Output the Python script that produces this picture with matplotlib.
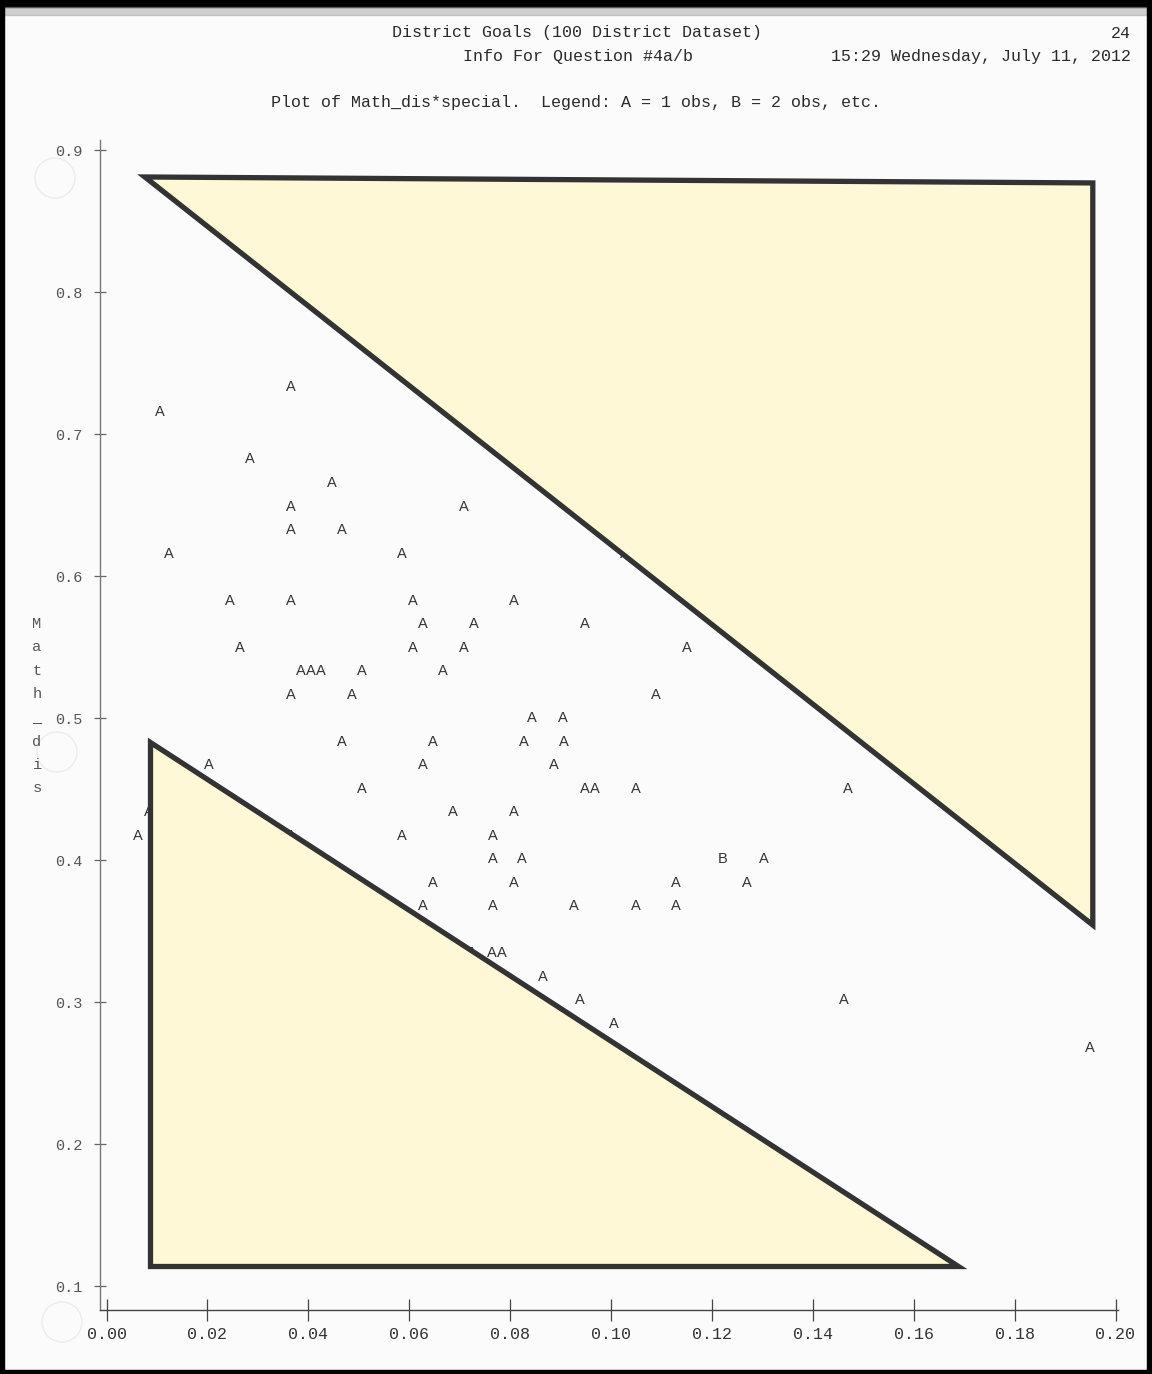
import matplotlib
matplotlib.use("Agg")
import matplotlib.pyplot as plt
from matplotlib.patches import Polygon, Rectangle, Ellipse

# Points (special, Math_dis, symbol)
special = [0.0366, 0.0106, 0.0284, 0.0447, 0.0366, 0.0709, 0.0366, 0.0467,
           0.0124, 0.0586, 0.1028, 0.0245, 0.0366, 0.0608, 0.0808,
           0.0627, 0.0728, 0.0948, 0.0265, 0.0608, 0.0709, 0.1151,
           0.0386, 0.0405, 0.0425, 0.0506, 0.0667, 0.0366, 0.0487, 0.1089,
           0.0843, 0.0905, 0.0467, 0.0647, 0.0828, 0.0907,
           0.0203, 0.0627, 0.0887, 0.0506, 0.0948, 0.0968, 0.1050, 0.1470,
           0.0687, 0.0808, 0.0083, 0.0062, 0.0586, 0.0766, 0.0366,
           0.0766, 0.0824, 0.1222, 0.1303, 0.0647, 0.0808, 0.1129, 0.1270,
           0.0627, 0.0766, 0.0927, 0.1050, 0.1129,
           0.0725, 0.0764, 0.0784, 0.0865, 0.0939, 0.1462, 0.1006, 0.1949]
math_dis = [0.7331, 0.7155, 0.6824, 0.6655, 0.6486, 0.6486, 0.6324, 0.6324,
            0.6155, 0.6155, 0.6155, 0.5824, 0.5824, 0.5824, 0.5824,
            0.5662, 0.5662, 0.5662, 0.5493, 0.5493, 0.5493, 0.5493,
            0.5331, 0.5331, 0.5331, 0.5331, 0.5331, 0.5162, 0.5162, 0.5162,
            0.5000, 0.5000, 0.4831, 0.4831, 0.4831, 0.4831,
            0.4669, 0.4669, 0.4669, 0.4500, 0.4500, 0.4500, 0.4500, 0.4500,
            0.4338, 0.4338, 0.4338, 0.4169, 0.4169, 0.4169, 0.4169,
            0.4007, 0.4007, 0.4007, 0.4007, 0.3838, 0.3838, 0.3838, 0.3838,
            0.3676, 0.3676, 0.3676, 0.3676, 0.3676,
            0.3345, 0.3345, 0.3345, 0.3176, 0.3014, 0.3014, 0.2845, 0.2676]
symbols = ['A'] * len(special)
symbols[special.index(0.1222)] = 'B'

# highlighted regions drawn over the printout
upper_tri = [(0.0076, 0.8810), (0.1955, 0.8768), (0.1955, 0.3542)]
lower_tri = [(0.0086, 0.4831), (0.0086, 0.1141), (0.1688, 0.1141)]

xticks = [0.00, 0.02, 0.04, 0.06, 0.08, 0.10, 0.12, 0.14, 0.16, 0.18, 0.20]
yticks = [0.1, 0.2, 0.3, 0.4, 0.5, 0.6, 0.7, 0.8, 0.9]

W, H = 1152, 1374
mono = ['Liberation Mono', 'DejaVu Sans Mono']

fig = plt.figure(figsize=(W / 100, H / 100), dpi=100)
fig.patch.set_facecolor('#fbfbfc')


def fx(px):
    return px / W


def fy(py):
    return 1 - py / H


# page frame (scanner edges)
fig.add_artist(Rectangle((0, fy(7)), 1, 7 / H, transform=fig.transFigure,
                         color='black', zorder=10))
fig.add_artist(Rectangle((0, fy(15)), 1, 8 / H, transform=fig.transFigure,
                         color='#9a9a9a', alpha=0.45, zorder=10))
fig.add_artist(Rectangle((0, 0), 4 / W, 1, transform=fig.transFigure,
                         color='black', zorder=10))
fig.add_artist(Rectangle((fx(1147), 0), 5 / W, 1, transform=fig.transFigure,
                         color='black', zorder=10))
fig.add_artist(Rectangle((0, 0), 1, 4 / H, transform=fig.transFigure,
                         color='black', zorder=10))

# very faint hole-punch marks
for cx, cy in [(55, 178), (57, 752), (62, 1322)]:
    fig.add_artist(Ellipse((fx(cx), fy(cy)), 40 / W, 40 / H,
                           transform=fig.transFigure, fill=False,
                           edgecolor='#ececef', lw=1.0))

# header
fig.text(fx(577), fy(33), 'District Goals (100 District Dataset)',
         ha='center', va='center', fontsize=12, family=mono, color='#2a2a2a')
fig.text(fx(1131), fy(33), '24', ha='right', va='center', fontsize=12,
         family=mono, color='#2a2a2a')
fig.text(fx(578), fy(56), 'Info For Question #4a/b', ha='center', va='center',
         fontsize=12, family=mono, color='#2a2a2a')
fig.text(fx(1131), fy(56), '15:29 Wednesday, July 11, 2012', ha='right',
         va='center', fontsize=12, family=mono, color='#2a2a2a')
fig.text(fx(576), fy(102),
         'Plot of Math_dis*special.  Legend: A = 1 obs, B = 2 obs, etc.',
         ha='center', va='center', fontsize=12, family=mono, color='#2a2a2a')

# vertical axis label, one character per print line
for i, ch in enumerate('Math_dis'):
    fig.text(fx(37), fy(624 + i * 23.5), ch, ha='center', va='center',
             fontsize=11, family=mono, color='#555555')

# axes: x=0 at px 106.5, 0.2 at px 1115; y=0.9 at px 150, 0.1 at px 1286
ax = fig.add_axes([fx(100), fy(1310), (1118 - 100) / W, (1310 - 140) / H])
ax.set_facecolor('none')
ax.set_xlim((100 - 106.5) / 5045, (1118 - 106.5) / 5045)
ax.set_ylim(0.9 - (1310 - 150) / 1420, 0.9 + (150 - 140) / 1420)
for s in ['top', 'right']:
    ax.spines[s].set_visible(False)
ax.spines['left'].set_color('#777777')
ax.spines['bottom'].set_color('#444444')
ax.spines['left'].set_linewidth(1.0)
ax.spines['bottom'].set_linewidth(1.0)

ax.set_xticks(xticks)
ax.set_xticklabels(['%.2f' % v for v in xticks])
ax.set_yticks(yticks)
ax.set_yticklabels(['%.1f' % v for v in yticks])
ax.tick_params(axis='x', direction='inout', length=16, width=0.9,
               color='#444444', pad=4, labelsize=12, labelcolor='#333333')
ax.tick_params(axis='y', direction='inout', length=9, width=0.9,
               color='#666666', pad=8, labelsize=11, labelcolor='#555555')
for lab in ax.get_xticklabels() + ax.get_yticklabels():
    lab.set_family(mono)

for x, y, s in zip(special, math_dis, symbols):
    ax.text(x, y, s, ha='center', va='center', fontsize=10.5,
            family='Liberation Sans', color='#333333', zorder=2)

for tri in (upper_tri, lower_tri):
    ax.add_patch(Polygon(tri, closed=True, facecolor='#fff8d6',
                         edgecolor='#333333', lw=3.8, joinstyle='miter',
                         zorder=3, clip_on=False))

fig.savefig('out.png', dpi=100, facecolor=fig.get_facecolor())
